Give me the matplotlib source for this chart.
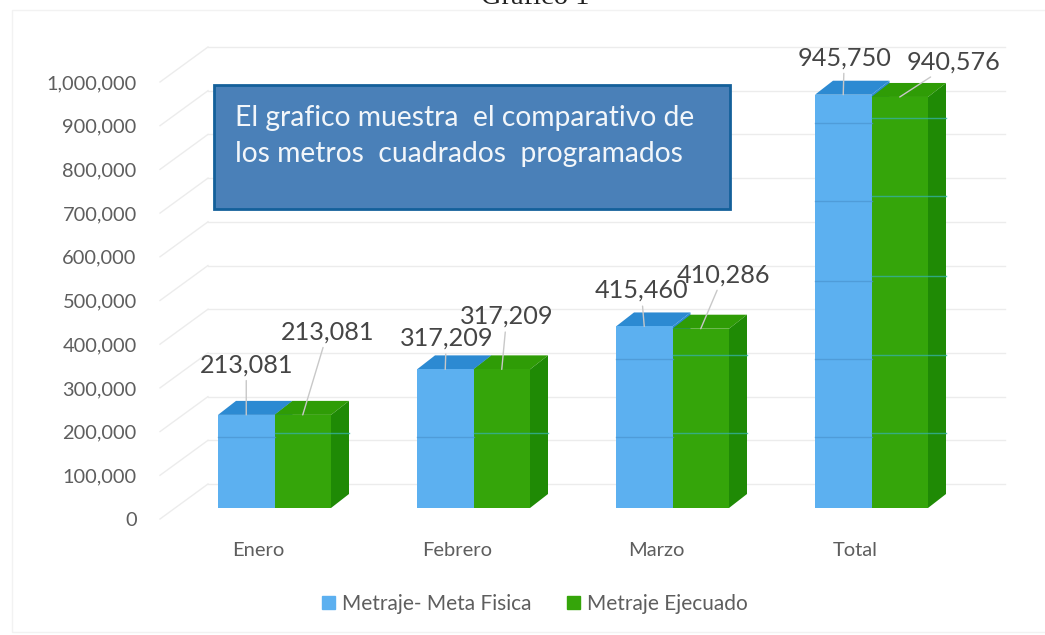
import matplotlib
matplotlib.use('Agg')
import matplotlib.pyplot as plt
from matplotlib.patches import Patch, Rectangle
from matplotlib.transforms import ScaledTranslation

categories = ['Enero', 'Febrero', 'Marzo', 'Total']
meta_fisica = [213081, 317209, 415460, 945750]
ejecutado = [213081, 317209, 410286, 940576]
y_ticks = [0, 100000, 200000, 300000, 400000, 500000, 600000, 700000, 800000, 900000, 1000000]
series_names = ['Metraje- Meta Fisica', 'Metraje Ejecuado']

# text offset of each value label from the top of its bar, in pixels
offsets_meta = [(0, 50), (1, 31), (-3, 36), (1, 37)]
offsets_ejec = [(25, 83), (5, 53), (23, 54), (54, 35)]

W, H = 1045, 635
PX_X = 199.0            # pixels per category
PX_Y = 0.437 / 1000     # pixels per unit of value
X0, Y0 = 274.5, 519.0   # pixel position of first category and of value 0
L, R, T, B = 145, 1015, 30, 530

plt.rcParams['font.family'] = ['Lato', 'DejaVu Sans']
TICK = '#5e5e5e'
LABEL = '#454545'
BLUE, BLUE_TOP = '#5cb0f0', '#2c8ad2'
GREEN, GREEN_TOP, GREEN_SIDE = '#35a50a', '#2f9c06', '#1f8a05'

fig = plt.figure(figsize=(W / 100, H / 100), dpi=100, facecolor='white')
ax = fig.add_axes([L / W, 1 - B / H, (R - L) / W, (B - T) / H])
ax.set_xlim((L - X0) / PX_X, (R - X0) / PX_X)
ax.set_ylim((Y0 - B) / PX_Y, (Y0 - T) / PX_Y)
for s in ax.spines.values():
    s.set_visible(False)

# depth of the walls and of the bars, turned into data units
wall_dx, wall_dy = 48 / PX_X, 35 / PX_Y
bar_dx, bar_dy = 18 / PX_X, 14 / PX_Y
base = 11 / PX_Y        # bars stand a little behind the front of the floor
width = 56.5 / PX_X
left_x = (160 - X0) / PX_X

grid = '#ececec'
for v in y_ticks:
    ax.plot([left_x, left_x + wall_dx], [v, v + wall_dy], color=grid, lw=1, zorder=1)
    ax.plot([left_x + wall_dx, (1005 - X0) / PX_X], [v + wall_dy, v + wall_dy], color=grid, lw=1, zorder=1)

# printed lines of the scan that cross the bars
scan_lines = [197000, 376000, 555000, 738000, 917000]

for i in range(len(categories)):
    m, e = meta_fisica[i], ejecutado[i]
    ax.fill([i - width, i, i + bar_dx, i - width + bar_dx],
            [base + m, base + m, base + m + bar_dy, base + m + bar_dy], color=BLUE_TOP, lw=0, zorder=3)
    # closes the gap where the blue bar is taller than the green one
    ax.fill([i, i + bar_dx, i + bar_dx, i],
            [base, base + bar_dy, base + m + bar_dy, base + m], color=BLUE_TOP, lw=0, zorder=3)
    ax.bar(i - width / 2, m, width, bottom=base, color=BLUE, zorder=3)
    ax.fill([i, i + width, i + width + bar_dx, i + bar_dx],
            [base + e, base + e, base + e + bar_dy, base + e + bar_dy], color=GREEN_TOP, lw=0, zorder=4)
    ax.fill([i + width, i + width + bar_dx, i + width + bar_dx, i + width],
            [base, base + bar_dy, base + e + bar_dy, base + e], color=GREEN_SIDE, lw=0, zorder=4)
    ax.bar(i + width / 2, e, width, bottom=base, color=GREEN, zorder=4)
    for v in scan_lines:
        if v < base + e:
            ax.plot([i, i + width + bar_dx], [v, v], color='#35b0a0', lw=1, alpha=0.8, zorder=5)
        if v - 10000 < base + m:
            ax.plot([i - width, i], [v - 10000, v - 10000], color='#4a94d0', lw=1, alpha=0.7, zorder=5)

    ax.annotate(f'{m:,}', xy=(i - width / 2, base + m), xytext=offsets_meta[i], textcoords='offset pixels',
                ha='center', va='center', fontsize=18.2, color=LABEL, zorder=7,
                arrowprops=dict(arrowstyle='-', color='#c8c8c8', lw=1, shrinkA=1, shrinkB=0))
    ax.annotate(f'{e:,}', xy=(i + width / 2, base + e), xytext=offsets_ejec[i], textcoords='offset pixels',
                ha='center', va='center', fontsize=18.2, color=LABEL, zorder=7,
                arrowprops=dict(arrowstyle='-', color='#c8c8c8', lw=1, shrinkA=1, shrinkB=0))

ax.set_yticks(y_ticks, [f'{v:,}' for v in y_ticks])
ax.set_xticks(range(len(categories)), categories)
ax.tick_params(axis='y', length=0, pad=6, labelsize=14.4, labelcolor=TICK)
ax.tick_params(axis='x', length=0, pad=9, labelsize=14.5, labelcolor=TICK)
shift = ScaledTranslation(-16 / 100, 0, fig.dpi_scale_trans)
for lab in ax.get_xticklabels():
    lab.set_transform(lab.get_transform() + shift)

# text box over the chart
box = Rectangle((214 / W, 1 - 209 / H), 516 / W, 124 / H, transform=fig.transFigure,
                facecolor='#4a80b8', edgecolor='#14609a', lw=2, zorder=6)
ax.add_patch(box)
box.set_clip_on(False)
ax.text(235 / W, 1 - 136 / H, 'El grafico muestra  el comparativo de\nlos metros  cuadrados  programados',
        transform=fig.transFigure, color='#f2f6fa', fontsize=20.3, va='center', ha='left',
        linespacing=1.5, zorder=7)

fig.text(535 / W, 1 - 4 / H, 'Gráfico 1', family='Liberation Serif', fontsize=20.5, color='#222222',
         ha='center', va='baseline')

fig.legend(handles=[Patch(color=BLUE, label=series_names[0]), Patch(color=GREEN, label=series_names[1])],
           loc='center', bbox_to_anchor=(535 / W, 1 - 604 / H), ncol=2, frameon=False, fontsize=15,
           labelcolor=TICK, handlelength=0.6, handleheight=0.6, handletextpad=0.35, columnspacing=1.7)

# faint frame of the pasted chart
fig.add_artist(Rectangle((12 / W, 1 - 632 / H), 1080 / W, 622 / H, transform=fig.transFigure,
                         facecolor='none', edgecolor='#f2f2f2', lw=1))

fig.savefig('out.png', dpi=100)
